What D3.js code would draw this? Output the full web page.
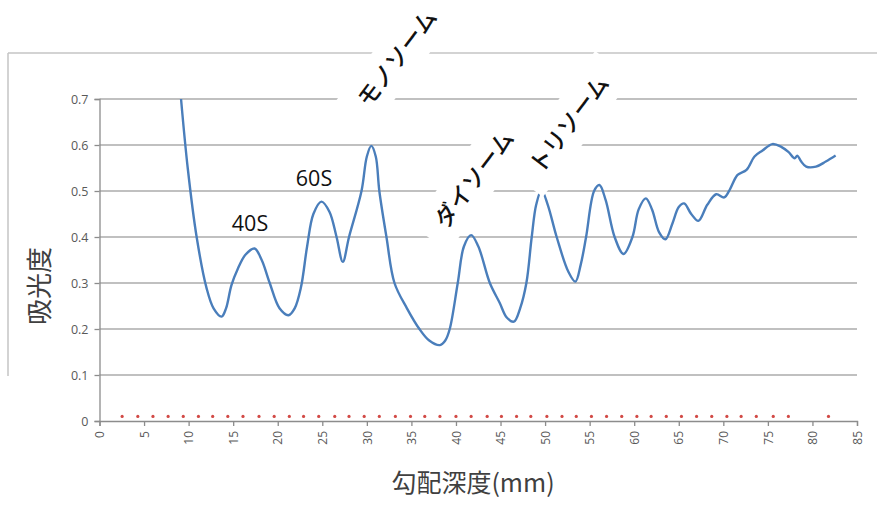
<!DOCTYPE html>
<html>
<head>
<meta charset="utf-8">
<script src="https://cdn.jsdelivr.net/npm/d3@7"></script>
<style>
  html, body { margin: 0; padding: 0; background: #fff; }
  svg { display: block; }
</style>
</head>
<body>
<svg id="chart" width="877" height="509"></svg>
<script>
// ---- data ----
const xTicks = [0,5,10,15,20,25,30,35,40,45,50,55,60,65,70,75,80,85];
const yTicks = [0,0.1,0.2,0.3,0.4,0.5,0.6,0.7];
const yTickLabels = ["0","0.1","0.2","0.3","0.4","0.5","0.6","0.7"];

const depth = [9.15,9.9,10.9,12.0,12.8,13.7,14.2,14.8,15.5,16.4,17.4,18.2,19.1,20.2,21.2,21.9,22.6,23.3,24.0,24.9,25.8,26.6,27.3,28.0,29.4,30.0,30.5,31.0,31.4,32.2,33.1,34.5,35.9,37.0,38.2,38.8,39.3,40.2,40.9,41.7,42.5,43.8,44.9,45.7,46.5,47.2,47.9,48.5,49.0,49.6,50.3,51.3,52.6,53.4,54.0,54.6,55.5,56.1,56.8,57.8,58.8,59.8,60.5,61.3,62.0,62.8,63.5,64.3,65.0,65.6,66.4,67.2,68.2,69.2,70.1,70.7,71.6,72.6,73.5,74.4,75.5,76.5,77.3,78.0,78.3,78.7,79.3,80.4,81.5,82.6];
const absorbance = [0.70,0.55,0.40,0.29,0.245,0.227,0.245,0.295,0.33,0.362,0.375,0.35,0.30,0.245,0.23,0.245,0.29,0.38,0.45,0.477,0.455,0.40,0.346,0.40,0.50,0.575,0.598,0.575,0.50,0.40,0.30,0.245,0.20,0.175,0.165,0.175,0.20,0.30,0.38,0.404,0.38,0.30,0.257,0.225,0.216,0.245,0.30,0.40,0.47,0.502,0.47,0.40,0.325,0.303,0.34,0.40,0.50,0.513,0.48,0.40,0.363,0.40,0.46,0.484,0.46,0.41,0.395,0.43,0.465,0.473,0.45,0.435,0.47,0.493,0.486,0.502,0.535,0.546,0.575,0.588,0.602,0.596,0.585,0.571,0.577,0.565,0.553,0.553,0.564,0.577];

const fractionDepth = [2.54,4.3,6.0,7.7,9.4,11.1,12.7,14.4,16.1,17.9,19.6,21.3,22.9,24.6,26.4,28.0,29.7,31.4,33.2,34.9,36.5,38.2,40.0,41.7,43.5,45.1,46.8,48.4,50.2,51.9,53.5,55.2,56.9,58.6,60.3,61.9,63.6,65.3,67.0,68.7,70.4,72.0,73.7,75.6,77.3,81.8];
const fractionValue = fractionDepth.map(() => 0.01);

const peakLabels = ["40S", "60S"];
const rotLabels = ["モノソーム", "ダイソーム", "トリソーム"];

const xTitle = "勾配深度(mm)";
const yTitle = "吸光度";

// ---- layout ----
const svg = d3.select("#chart");
const L = 99.5, R = 857, T = 99, B = 421;
const x = d3.scaleLinear().domain([0, 85]).range([L, R]);
const y = d3.scaleLinear().domain([0, 0.7]).range([B, T]);

const gridColor = "#ababab";
const axisColor = "#8c8c8c";
const tickText = "#595959";

// outer chart border (top and left)
svg.append("line").attr("x1", 8).attr("x2", 877).attr("y1", 53).attr("y2", 53)
  .attr("stroke", "#c4c4c4").attr("stroke-width", 1.5);
svg.append("line").attr("x1", 8).attr("x2", 8).attr("y1", 53).attr("y2", 376)
  .attr("stroke", "#c4c4c4").attr("stroke-width", 1.5);

// gridlines
svg.append("g").selectAll("line").data(yTicks.filter(d => d > 0)).join("line")
  .attr("x1", L).attr("x2", R)
  .attr("y1", d => y(d)).attr("y2", d => y(d))
  .attr("stroke", gridColor).attr("stroke-width", 1.4);

// y axis
const yAxis = d3.axisLeft(y).tickValues(yTicks).tickSize(5).tickPadding(6)
  .tickFormat((d, i) => yTickLabels[i]);
const gy = svg.append("g").attr("transform", `translate(${L},0)`).call(yAxis);
gy.select(".domain").attr("stroke", axisColor).attr("stroke-width", 1.3);
gy.selectAll(".tick line").attr("stroke", axisColor).attr("stroke-width", 1.3);
gy.selectAll(".tick text").attr("fill", tickText)
  .style("font-family", "'Open Sans', 'Noto Sans', sans-serif").style("font-size", "12.5px");

// x axis
const xAxis = d3.axisBottom(x).tickValues(xTicks).tickSize(5).tickFormat(d3.format("d"));
const gx = svg.append("g").attr("transform", `translate(0,${B})`).call(xAxis);
gx.select(".domain").attr("stroke", axisColor).attr("stroke-width", 1.3);
gx.selectAll(".tick line").attr("stroke", axisColor).attr("stroke-width", 1.3);
gx.selectAll(".tick text")
  .attr("fill", tickText)
  .attr("transform", "rotate(-90)")
  .attr("text-anchor", "end")
  .attr("x", -10).attr("y", 0).attr("dy", "0.35em")
  .style("font-family", "'Open Sans', 'Noto Sans', sans-serif").style("font-size", "12px");

// red fraction markers
svg.append("g").selectAll("circle").data(fractionDepth).join("circle")
  .attr("cx", (d) => x(d))
  .attr("cy", (d, i) => y(fractionValue[i]))
  .attr("r", 1.6)
  .attr("fill", "#d24a46");

// absorbance curve
svg.append("clipPath").attr("id", "plotclip").append("rect")
  .attr("x", L).attr("y", T - 1).attr("width", R - L).attr("height", B - T + 1);
const pts = depth.map((d, i) => [d, absorbance[i]]);
const line = d3.line().x(d => x(d[0])).y(d => y(d[1])).curve(d3.curveCatmullRom.alpha(0.5));
svg.append("path").datum(pts)
  .attr("d", line)
  .attr("fill", "none")
  .attr("stroke", "#4a7ebb")
  .attr("stroke-width", 2.4)
  .attr("stroke-linejoin", "round")
  .attr("clip-path", "url(#plotclip)");

// peak labels 40S / 60S
const labFont = "'Open Sans', 'Noto Sans', sans-serif";
svg.append("text").attr("x", 250).attr("y", 231).attr("text-anchor", "middle")
  .style("font-family", labFont).style("font-size", "21.5px").attr("fill", "#111")
  .text(peakLabels[0]);
svg.append("text").attr("x", 314).attr("y", 186).attr("text-anchor", "middle")
  .style("font-family", labFont).style("font-size", "21.5px").attr("fill", "#111")
  .text(peakLabels[1]);

// rotated labels with white backgrounds
const rotPos = [[397, 58], [474, 179], [569, 124]];
rotLabels.forEach((t, i) => {
  const g = svg.append("g").attr("transform", `translate(${rotPos[i][0]},${rotPos[i][1]}) rotate(-53)`);
  g.append("rect").attr("x", -74).attr("y", -23).attr("width", 148).attr("height", 46).attr("fill", "#fff");
  g.append("text").attr("text-anchor", "middle").attr("dy", "0.36em")
    .style("font-family", "'Noto Sans CJK JP', sans-serif").style("font-size", "23px")
    .style("font-weight", "500")
    .attr("fill", "#111").text(t);
});

// axis titles
svg.append("text").attr("transform", "translate(40,286) rotate(-90)")
  .attr("text-anchor", "middle").attr("dy", "0.36em")
  .style("font-family", "'Noto Sans CJK JP', sans-serif").style("font-size", "26px")
  .attr("fill", "#404040").text(yTitle);
svg.append("text").attr("x", 473).attr("y", 483).attr("text-anchor", "middle").attr("dy", "0.36em")
  .style("font-family", "'Noto Sans CJK JP', sans-serif").style("font-size", "25px")
  .attr("fill", "#404040").text(xTitle);
</script>
</body>
</html>
